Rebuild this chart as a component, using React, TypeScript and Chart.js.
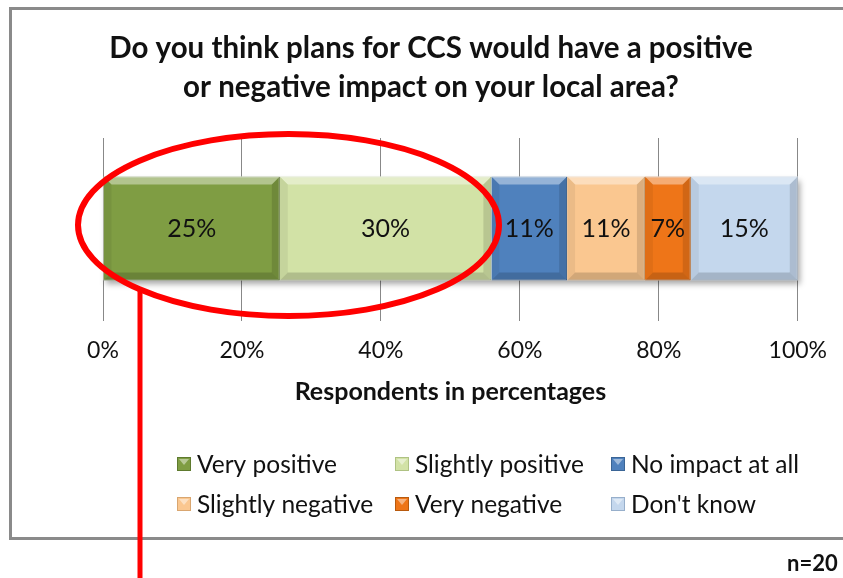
import React, { useEffect, useRef } from 'react';
import { Chart, registerables } from 'chart.js';
Chart.register(...registerables);

const titleLines = ['Do you think plans for CCS would have a positive', 'or negative impact on your local area?'];
const categories = [''];
const seriesLabels = ['Very positive', 'Slightly positive', 'No impact at all', 'Slightly negative', 'Very negative', "Don't know"];
const seriesValues = [25.45, 30.45, 10.9, 11.2, 6.6, 15.4];
const seriesColors = ['#7F9D43', '#D2E2A6', '#4F81BD', '#FAC790', '#EE7518', '#C4D7ED'];
const seriesBorders = ['#5E7A2E', '#AFC283', '#3A6596', '#D9A670', '#B85A0E', '#97AFCB'];
const tickStep = 20;
const axisMin = 0;
const axisMax = 100;
const axisTitle = 'Respondents in percentages';
const sampleNote = 'n=20';

const FONT = 'Lato, "Open Sans", sans-serif';

const framePlugin = {
  id: 'frame',
  beforeDraw(chart: any) {
    const ctx = chart.ctx;
    ctx.save();
    ctx.fillStyle = '#ffffff';
    ctx.fillRect(0, 0, chart.width, chart.height);
    ctx.strokeStyle = '#8a8a8a';
    ctx.lineWidth = 3;
    ctx.lineCap = 'butt';
    ctx.beginPath();
    ctx.moveTo(9, 8.5);
    ctx.lineTo(chart.width, 8.5);
    ctx.moveTo(10.5, 8.5);
    ctx.lineTo(10.5, 538.5);
    ctx.moveTo(9, 538.5);
    ctx.lineTo(chart.width, 538.5);
    ctx.stroke();
    ctx.restore();
  },
  beforeDatasetsDraw(chart: any) {
    const ctx = chart.ctx;
    let l = Infinity, r = -Infinity, t = 0, b = 0;
    chart.data.datasets.forEach((_: any, i: number) => {
      const meta = chart.getDatasetMeta(i);
      meta.data.forEach((el: any) => {
        const p = el.getProps(['x', 'y', 'base', 'height'], true);
        l = Math.min(l, p.base, p.x);
        r = Math.max(r, p.base, p.x);
        t = p.y - p.height / 2;
        b = p.y + p.height / 2;
      });
    });
    ctx.save();
    ctx.shadowColor = 'rgba(0,0,0,0.35)';
    ctx.shadowBlur = 6;
    ctx.shadowOffsetX = 2;
    ctx.shadowOffsetY = 4;
    ctx.fillStyle = '#ffffff';
    ctx.fillRect(l, t, r - l, b - t);
    ctx.restore();
  },
  afterDatasetsDraw(chart: any) {
    const ctx = chart.ctx;
    ctx.save();
    chart.data.datasets.forEach((ds: any, i: number) => {
      const meta = chart.getDatasetMeta(i);
      meta.data.forEach((el: any, j: number) => {
        const p = el.getProps(['x', 'y', 'base', 'height'], true);
        const left = Math.min(p.base, p.x);
        const right = Math.max(p.base, p.x);
        const top = p.y - p.height / 2;
        const bottom = p.y + p.height / 2;
        const bv = 8;
        const poly = (pts: number[][], color: string) => {
          ctx.beginPath();
          ctx.moveTo(pts[0][0], pts[0][1]);
          for (let k = 1; k < pts.length; k++) ctx.lineTo(pts[k][0], pts[k][1]);
          ctx.closePath();
          ctx.fillStyle = color;
          ctx.fill();
        };
        poly([[left, top], [right, top], [right - bv, top + bv], [left + bv, top + bv]], 'rgba(255,255,255,0.4)');
        poly([[left, top], [left + bv, top + bv], [left + bv, bottom - bv], [left, bottom]], 'rgba(0,0,0,0.06)');
        poly([[right, top], [right, bottom], [right - bv, bottom - bv], [right - bv, top + bv]], 'rgba(0,0,0,0.12)');
        poly([[left, bottom], [left + bv, bottom - bv], [right - bv, bottom - bv], [right, bottom]], 'rgba(0,0,0,0.16)');
        const v = ds.data[j];
        ctx.fillStyle = '#111';
        ctx.font = `25px ${FONT}`;
        ctx.textAlign = 'center';
        ctx.textBaseline = 'middle';
        ctx.fillText(Math.round(v) + '%', (left + right) / 2, p.y);
      });
    });
    ctx.restore();
  },
  afterDraw(chart: any) {
    const ctx = chart.ctx;
    ctx.save();
    // title
    ctx.fillStyle = '#111';
    ctx.textAlign = 'center';
    ctx.textBaseline = 'middle';
    ctx.font = `bold 29.5px ${FONT}`;
    ctx.fillText(titleLines[0], 431, 48);
    ctx.fillText(titleLines[1], 431, 87);
    // legend
    const colX = [177, 395, 611];
    const rowY = [464, 504];
    ctx.font = `24.5px ${FONT}`;
    ctx.textAlign = 'left';
    seriesLabels.forEach((lab, i) => {
      const x = colX[i % 3];
      const y = rowY[Math.floor(i / 3)];
      const s = 14;
      ctx.fillStyle = seriesColors[i];
      ctx.fillRect(x, y - s / 2, s, s);
      ctx.fillStyle = 'rgba(255,255,255,0.45)';
      ctx.beginPath();
      ctx.moveTo(x + 2, y - s / 2 + 2);
      ctx.lineTo(x + s - 2, y - s / 2 + 2);
      ctx.lineTo(x + s / 2, y + 1);
      ctx.closePath();
      ctx.fill();
      ctx.strokeStyle = seriesBorders[i];
      ctx.lineWidth = 1;
      ctx.strokeRect(x + 0.5, y - s / 2 + 0.5, s - 1, s - 1);
      ctx.fillStyle = '#111';
      ctx.fillText(lab, x + 20, y + 1);
    });
    // note
    ctx.font = `bold 22px ${FONT}`;
    ctx.fillText(sampleNote, 787, 564);
    // annotation
    ctx.strokeStyle = '#ff0000';
    ctx.lineWidth = 6;
    ctx.beginPath();
    ctx.ellipse(288.5, 225, 210.5, 91, 0, 0, Math.PI * 2);
    ctx.stroke();
    ctx.lineWidth = 5;
    ctx.beginPath();
    ctx.moveTo(140, 288);
    ctx.lineTo(140, 578);
    ctx.stroke();
    ctx.restore();
  },
};

export default function App() {
  const ref = useRef<HTMLCanvasElement>(null);
  useEffect(() => {
    if (!ref.current) return;
    const chart = new Chart(ref.current, {
      type: 'bar',
      data: {
        labels: categories,
        datasets: seriesLabels.map((label, i) => ({
          label,
          data: [seriesValues[i]],
          backgroundColor: seriesColors[i],
          borderColor: seriesBorders[i],
          borderWidth: 1,
          barPercentage: 0.574,
          categoryPercentage: 1,
        })),
      },
      options: {
        indexAxis: 'y',
        animation: false,
        responsive: true,
        maintainAspectRatio: false,
        layout: { padding: { left: 103, right: 43, top: 138, bottom: 171 } },
        plugins: {
          legend: { display: false },
          title: { display: false },
          tooltip: { enabled: false },
        },
        scales: {
          x: {
            stacked: true,
            min: axisMin,
            max: axisMax,
            ticks: {
              stepSize: tickStep,
              callback: (v: any) => v + '%',
              color: '#111',
              font: { family: FONT, size: 23 },
              padding: 16,
            },
            grid: { color: '#888', lineWidth: 1, tickLength: 2, drawTicks: true },
            border: { display: false },
            title: {
              display: true,
              text: axisTitle,
              color: '#111',
              font: { family: FONT, size: 25, weight: 'bold' },
              padding: 0,
            },
            afterFit: (s: any) => {
              s.height = 88;
            },
          },
          y: { stacked: true, display: false },
        },
      } as any,
      plugins: [framePlugin],
    });
    return () => chart.destroy();
  }, []);
  return (
    <div style={{ position: 'absolute', left: 0, top: 0, width: 843, height: 578 }}>
      <canvas ref={ref} />
    </div>
  );
}
